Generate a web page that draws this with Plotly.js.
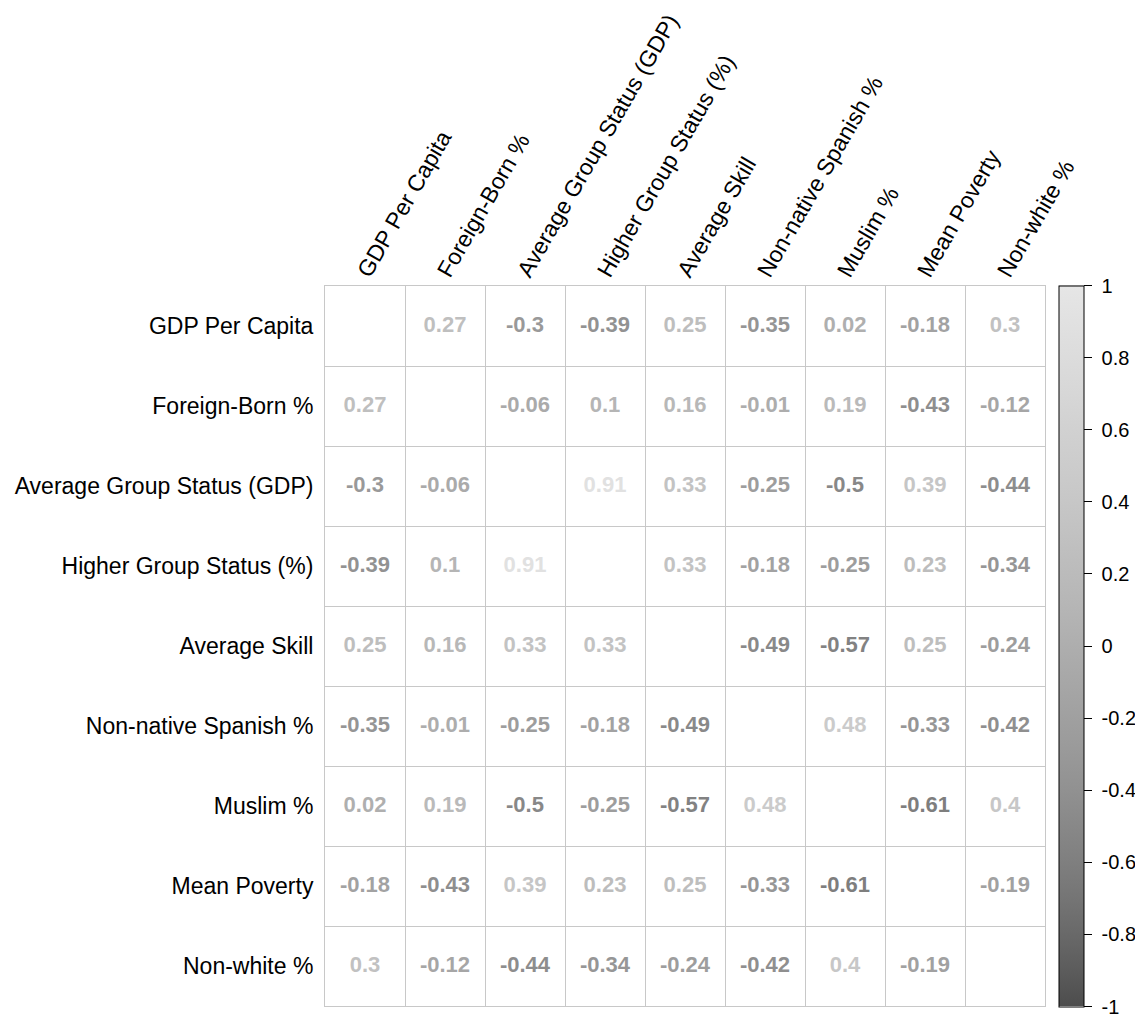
<!DOCTYPE html>
<html>
<head>
<meta charset="utf-8">
<script src="https://cdn.plot.ly/plotly-3.0.1.min.js"></script>
<style>
  html, body { margin: 0; padding: 0; background: #ffffff; }
  #chart { width: 1135px; height: 1017px; }
</style>
</head>
<body>
<div id="chart"></div>
<script>
// Variable names (same order on both axes)
const variables = [
  "GDP Per Capita",
  "Foreign-Born %",
  "Average Group Status (GDP)",
  "Higher Group Status (%)",
  "Average Skill",
  "Non-native Spanish %",
  "Muslim %",
  "Mean Poverty",
  "Non-white %"
];

// Correlation matrix, one row per variable (diagonal left blank)
const gdpPerCapita      = [null, 0.27, -0.3, -0.39, 0.25, -0.35, 0.02, -0.18, 0.3];
const foreignBorn       = [0.27, null, -0.06, 0.1, 0.16, -0.01, 0.19, -0.43, -0.12];
const avgGroupStatus    = [-0.3, -0.06, null, 0.91, 0.33, -0.25, -0.5, 0.39, -0.44];
const higherGroupStatus = [-0.39, 0.1, 0.91, null, 0.33, -0.18, -0.25, 0.23, -0.34];
const averageSkill      = [0.25, 0.16, 0.33, 0.33, null, -0.49, -0.57, 0.25, -0.24];
const nonNativeSpanish  = [-0.35, -0.01, -0.25, -0.18, -0.49, null, 0.48, -0.33, -0.42];
const muslim            = [0.02, 0.19, -0.5, -0.25, -0.57, 0.48, null, -0.61, 0.4];
const meanPoverty       = [-0.18, -0.43, 0.39, 0.23, 0.25, -0.33, -0.61, null, -0.19];
const nonWhite          = [0.3, -0.12, -0.44, -0.34, -0.24, -0.42, 0.4, -0.19, null];

const corrRows = [gdpPerCapita, foreignBorn, avgGroupStatus, higherGroupStatus,
                  averageSkill, nonNativeSpanish, muslim, meanPoverty, nonWhite];

// Colour bar ticks
const barTicks = [1, 0.8, 0.6, 0.4, 0.2, 0, -0.2, -0.4, -0.6, -0.8, -1];
const barTickText = ["1", "0.8", "0.6", "0.4", "0.2", "0", "-0.2", "-0.4", "-0.6", "-0.8", "-1"];

// Gamma-corrected grey ramp (dark grey at -1, light grey at +1)
const G_START = Math.pow(0.3, 2.2), G_END = Math.pow(0.9, 2.2);
function greyFor(v) {
  const t = (v + 1) / 2;
  const g = Math.round(255 * Math.pow(G_START + t * (G_END - G_START), 1 / 2.2));
  return "rgb(" + g + "," + g + "," + g + ")";
}
const greyScale = [];
for (let k = 0; k <= 20; k++) {
  const t = k / 20;
  greyScale.push([t, greyFor(t * 2 - 1)]);
}

// Flatten the matrix into cell positions
const xs = [], ys = [], vals = [], labels = [], colors = [];
corrRows.forEach((row, i) => {
  row.forEach((v, j) => {
    if (v === null) return;
    xs.push(j);
    ys.push(i);
    vals.push(v);
    labels.push(String(v));
    colors.push(greyFor(v));
  });
});

const font = "Liberation Sans, Arial, Helvetica, sans-serif";
const idx = variables.map((_, k) => k);
const bounds = [];
for (let k = 0; k <= variables.length; k++) bounds.push(k - 0.5);

const textTrace = {
  type: "scatter",
  mode: "text",
  x: xs,
  y: ys,
  text: labels,
  textposition: "middle center",
  textfont: { family: font, size: 22, color: colors, weight: "bold" },
  hoverinfo: "skip",
  showlegend: false
};

const scaleTrace = {
  type: "scatter",
  mode: "markers",
  x: xs,
  y: ys,
  marker: {
    size: 1,
    opacity: 0,
    color: vals,
    cmin: -1,
    cmax: 1,
    colorscale: greyScale,
    showscale: true,
    colorbar: {
      x: 1.0194,
      xanchor: "left",
      y: 0.5,
      yanchor: "middle",
      xpad: 0,
      ypad: 0,
      thickness: 25,
      thicknessmode: "pixels",
      len: 721,
      lenmode: "pixels",
      outlinecolor: "#000000",
      outlinewidth: 1,
      tickmode: "array",
      tickvals: barTicks,
      ticktext: barTickText.map(s => "\u00a0" + s),
      ticks: "outside",
      ticklen: 8,
      tickwidth: 1,
      tickcolor: "#000000",
      ticklabeloverflow: "allow",
      tickfont: { family: font, size: 20, color: "#000000" }
    }
  },
  hoverinfo: "skip",
  showlegend: false
};

const layout = {
  width: 1135,
  height: 1017,
  margin: { l: 325, r: 90, t: 286, b: 11, autoexpand: false },
  paper_bgcolor: "#ffffff",
  plot_bgcolor: "#ffffff",
  showlegend: false,
  xaxis: {
    side: "top",
    range: [-0.5, variables.length - 0.5],
    tickmode: "array",
    tickvals: idx,
    ticktext: variables,
    tickangle: -60,
    ticks: "",
    ticklabelstandoff: -9,
    ticklabelshift: -5,
    showgrid: false,
    zeroline: false,
    showline: true,
    mirror: true,
    linecolor: "#c8c8c8",
    linewidth: 1,
    tickfont: { family: font, size: 23, color: "#000000" },
    minor: { tickmode: "array", tickvals: bounds, showgrid: true, gridcolor: "#c8c8c8", gridwidth: 1, ticks: "" },
    fixedrange: true
  },
  yaxis: {
    range: [variables.length - 0.5, -0.5],
    tickmode: "array",
    tickvals: idx,
    ticktext: variables,
    ticks: "",
    ticklabelstandoff: 6,
    showgrid: false,
    zeroline: false,
    showline: true,
    mirror: true,
    linecolor: "#c8c8c8",
    linewidth: 1,
    tickfont: { family: font, size: 23, color: "#000000" },
    minor: { tickmode: "array", tickvals: bounds, showgrid: true, gridcolor: "#c8c8c8", gridwidth: 1, ticks: "" },
    fixedrange: true
  }
};

Plotly.newPlot("chart", [scaleTrace, textTrace], layout, { displayModeBar: false, staticPlot: true });
</script>
</body>
</html>
